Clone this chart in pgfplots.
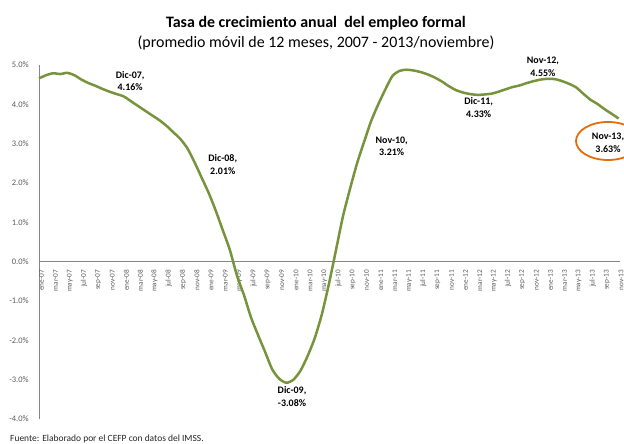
\documentclass[border=0pt]{standalone}
\usepackage{fontspec}
\setmainfont{Carlito}
\usepackage{pgfplots}
\pgfplotsset{compat=1.18}
\definecolor{olivec}{RGB}{119,147,60}
\definecolor{orng}{RGB}{228,108,10}
\definecolor{tickgray}{RGB}{89,89,89}
\definecolor{axgray}{RGB}{134,134,134}
\tikzset{lbl/.style={font=\fontsize{10}{12.5}\selectfont\bfseries, align=center, text=black}}
\begin{document}
\begin{tikzpicture}[x=1bp,y=1bp]
\useasboundingbox (0,0) rectangle (624,444);
\node[font=\fontsize{16}{18}\selectfont\bfseries] at (316,421) {Tasa de crecimiento anual\ \ del empleo formal};
\node[font=\fontsize{16}{18}\selectfont] at (316,401) {(promedio móvil de 12 meses, 2007 - 2013/noviembre)};
\node[font=\fontsize{9.5}{11}\selectfont, anchor=north west, inner sep=0pt, text=black!85] at (10,9) {Fuente: Elaborado por el CEFP con datos del IMSS.};
\begin{axis}[
  at={(39bp,25bp)}, anchor=south west, scale only axis,
  width=581bp, height=354bp,
  xmin=0, xmax=82.2, ymin=-4, ymax=5,
  enlargelimits=false, clip=false,
  axis x line=middle, axis y line=left,
  axis line style={-, draw=axgray, line width=0.8bp},
  hide obscured x ticks=false, hide obscured y ticks=false,
  tick style={draw=none},
  xtick={0,2,...,82},
  xticklabels={ene-07,mar-07,may-07,jul-07,sep-07,nov-07,
               ene-08,mar-08,may-08,jul-08,sep-08,nov-08,
               ene-09,mar-09,may-09,jul-09,sep-09,nov-09,
               ene-10,mar-10,may-10,jul-10,sep-10,nov-10,
               ene-11,mar-11,may-11,jul-11,sep-11,nov-11,
               ene-12,mar-12,may-12,jul-12,sep-12,nov-12,
               ene-13,mar-13,may-13,jul-13,sep-13,nov-13},
  ytick={-4,-3,-2,-1,0,1,2,3,4,5},
  yticklabels={-4.0\%,-3.0\%,-2.0\%,-1.0\%,0.0\%,1.0\%,2.0\%,3.0\%,4.0\%,5.0\%},
  xticklabel shift=6bp, yticklabel shift=8bp,
  x tick label style={xshift=2.5bp, rotate=90, anchor=east, inner sep=0pt, font=\fontsize{7.3}{8}\selectfont, text=tickgray},
  y tick label style={anchor=east, inner sep=0pt, font=\fontsize{8.5}{9}\selectfont, text=tickgray},
]
\addplot[olivec, line width=2.5bp, smooth, tension=0.4] coordinates {
(0,4.66) (1,4.74) (2,4.79) (3,4.77) (4,4.80) (5,4.74) (6,4.63) (7,4.54) (8,4.47) (9,4.39)
(10,4.32) (11,4.26) (12,4.20) (13,4.08) (14,3.96) (15,3.84) (16,3.72) (17,3.60) (18,3.46) (19,3.29)
(20,3.12) (21,2.88) (22,2.53) (23,2.14) (24,1.75) (25,1.30) (26,0.80) (27,0.30) (28,-0.35) (29,-0.85)
(30,-1.42) (31,-1.87) (32,-2.30) (33,-2.74) (34,-2.98) (35,-3.08) (36,-3.00) (37,-2.77) (38,-2.40) (39,-1.95)
(40,-1.35) (41,-0.58) (42,0.28) (43,1.15) (44,1.85) (45,2.50) (46,3.05) (47,3.58) (48,4.00) (49,4.38)
(50,4.72) (51,4.85) (52,4.88) (53,4.86) (54,4.82) (55,4.76) (56,4.68) (57,4.58) (58,4.46) (59,4.36)
(60,4.30) (61,4.26) (62,4.24) (63,4.25) (64,4.27) (65,4.32) (66,4.38) (67,4.44) (68,4.48) (69,4.54)
(70,4.59) (71,4.63) (72,4.65) (73,4.64) (74,4.59) (75,4.52) (76,4.43) (77,4.27) (78,4.12) (79,4.01)
(80,3.88) (81,3.76) (82,3.64)
};
\node[lbl] at (axis cs:12.9,4.59) {Dic-07,\\4.16\%};
\node[lbl] at (axis cs:26.0,2.47) {Dic-08,\\2.01\%};
\node[lbl] at (axis cs:35.8,-3.43) {Dic-09,\\-3.08\%};
\node[lbl] at (axis cs:49.9,2.94) {Nov-10,\\3.21\%};
\node[lbl] at (axis cs:62.2,3.92) {Dic-11,\\4.33\%};
\node[lbl] at (axis cs:71.3,4.96) {Nov-12,\\4.55\%};
\node[lbl] at (axis cs:80.5,3.02) {Nov-13,\\3.63\%};
\end{axis}
\draw[orng, line width=1.8bp] (608,303) ellipse [x radius=32, y radius=19];
\end{tikzpicture}
\end{document}
